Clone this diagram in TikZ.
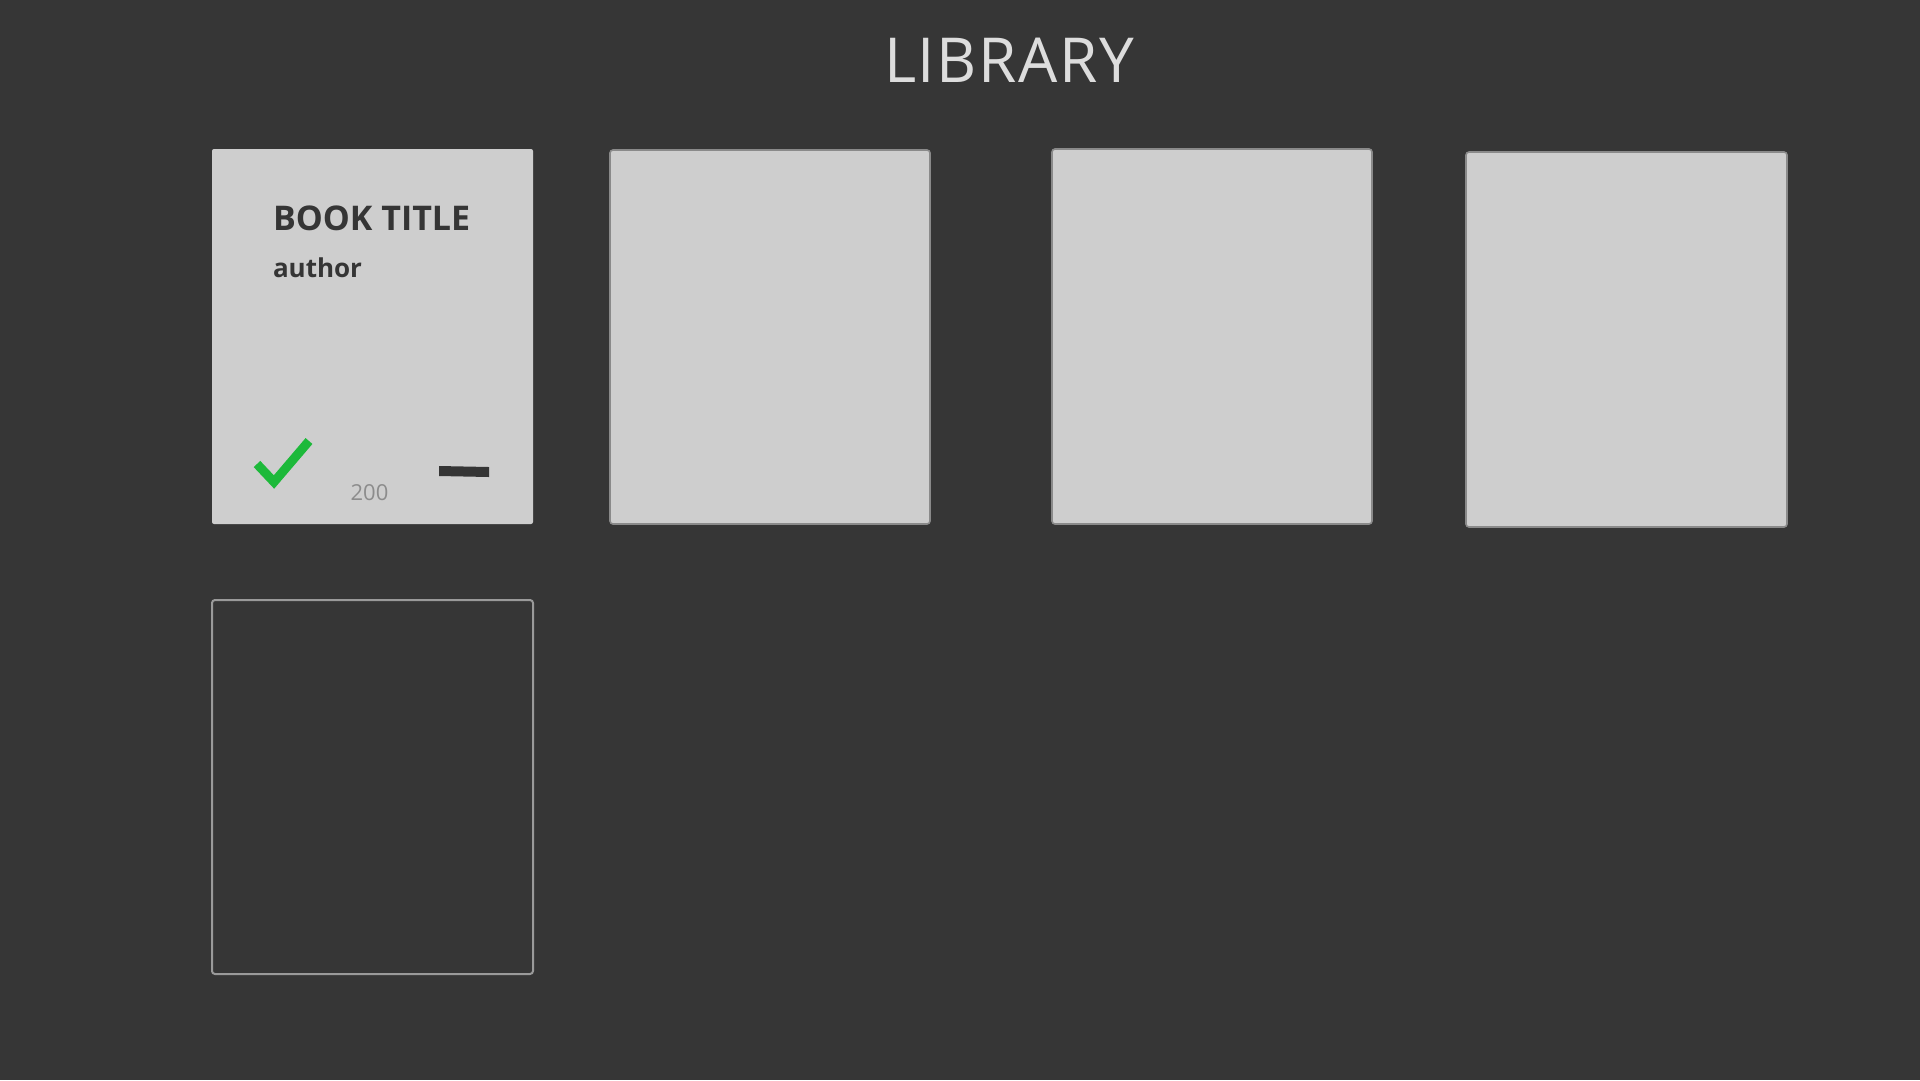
\documentclass[tikz,border=0pt]{standalone}
\usepackage{fontspec}
\setmainfont{Open Sans}
\definecolor{bgc}{HTML}{363636}
\definecolor{cardc}{HTML}{CECECE}
\definecolor{edgec}{HTML}{8A8A8A}
\definecolor{outc}{HTML}{9A9A9A}
\definecolor{darkt}{HTML}{353535}
\definecolor{greenc}{HTML}{1DB93A}
\definecolor{numc}{HTML}{8C8C8C}
\definecolor{titlec}{HTML}{DDDDDD}
\begin{document}
\begin{tikzpicture}[x=1pt,y=-1pt,
  card/.style={draw=edgec,line width=1.6pt,fill=cardc,rounded corners=3pt},
  cardplain/.style={fill=cardc,rounded corners=2pt},
  emptycard/.style={draw=outc,line width=2pt,rounded corners=3pt},
  txt/.style={inner sep=0pt,outer sep=0pt}]
\fill[bgc] (0,0) rectangle (1920,1080);
\useasboundingbox (0,0) rectangle (1920,1080);
% title
\node[txt,anchor=base,text=titlec,font=\fontsize{62}{64}\selectfont\addfontfeature{LetterSpace=2.5}] (title) at (1009,82) {LIBRARY};
% cards
\path[cardplain] (212,149) rectangle (533,524);
\node[txt] (card1) at (372.5,336.5) {};
\path[card] (610,150) rectangle (930,524);
\node[txt] (card2) at (770,337) {};
\path[card] (1052,149) rectangle (1372,524);
\node[txt] (card3) at (1212,336.5) {};
\path[card] (1466,152) rectangle (1787,527);
\node[txt] (card4) at (1626.5,339.5) {};
\path[emptycard] (212,600) rectangle (533,974);
\node[txt] (card5) at (372.5,787) {};
% card 1 contents
\node[txt,anchor=base west,text=darkt,font=\fontsize{34}{36}\selectfont\bfseries] (booktitle) at (273,230) {BOOK TITLE};
\node[txt,anchor=base west,text=darkt,font=\fontsize{26}{28}\selectfont\bfseries] (author) at (273,277) {author};
\node[txt,anchor=base,text=numc,font=\fontsize{22}{24}\selectfont] (pages) at (369.5,500) {200};
\coordinate (ckA) at (257,464);
\coordinate (ckB) at (274,482);
\coordinate (ckC) at (309,441);
\draw[greenc,line width=9pt,line join=miter] (ckA) -- (ckB) -- (ckC);
\coordinate (mA) at (439,466);
\coordinate (mB) at (489,467);
\coordinate (mC) at (489,477);
\coordinate (mD) at (439,476);
\fill[darkt] (mA) -- (mB) -- (mC) -- (mD) -- cycle;
\end{tikzpicture}
\end{document}
